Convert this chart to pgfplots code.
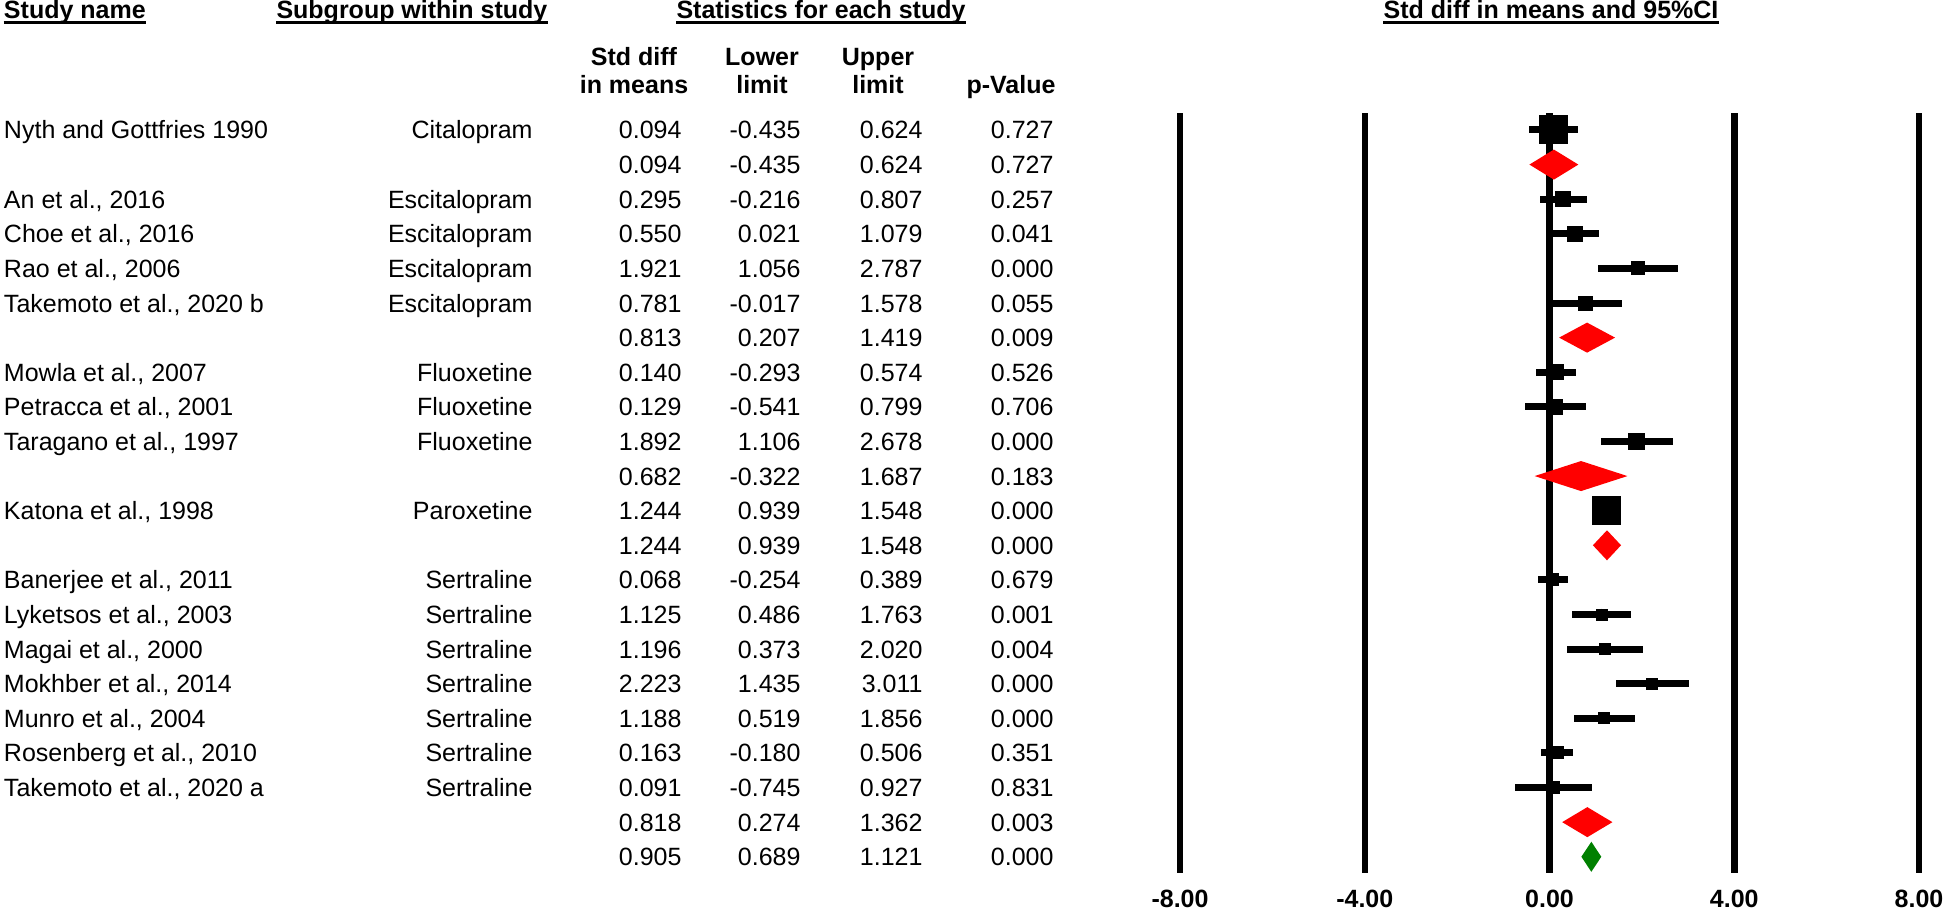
\documentclass[border=0pt]{standalone}
\usepackage{pgfplots}
\pgfplotsset{compat=1.18}
\usepackage{pgfplotstable}
\usepackage{fontspec}
\setmainfont{Liberation Sans}

\definecolor{sumred}{RGB}{255,0,0}
\definecolor{allgreen}{RGB}{0,128,0}

% row = line of the table (0 = top), ms = half side of the square in pt
\pgfplotstableread[col sep=semicolon]{
row;name;sub;est;lo;hi;p;ms
0;Nyth and Gottfries 1990;Citalopram;0.094;-0.435;0.624;0.727;5.6
2;An et al., 2016;Escitalopram;0.295;-0.216;0.807;0.257;3.0
3;Choe et al., 2016;Escitalopram;0.550;0.021;1.079;0.041;3.0
4;Rao et al., 2006;Escitalopram;1.921;1.056;2.787;0.000;2.6
5;Takemoto et al., 2020 b;Escitalopram;0.781;-0.017;1.578;0.055;2.8
7;Mowla et al., 2007;Fluoxetine;0.140;-0.293;0.574;0.526;3.0
8;Petracca et al., 2001;Fluoxetine;0.129;-0.541;0.799;0.706;3.0
9;Taragano et al., 1997;Fluoxetine;1.892;1.106;2.678;0.000;3.2
11;Katona et al., 1998;Paroxetine;1.244;0.939;1.548;0.000;5.6
13;Banerjee et al., 2011;Sertraline;0.068;-0.254;0.389;0.679;2.4
14;Lyketsos et al., 2003;Sertraline;1.125;0.486;1.763;0.001;2.2
15;Magai et al., 2000;Sertraline;1.196;0.373;2.020;0.004;2.2
16;Mokhber et al., 2014;Sertraline;2.223;1.435;3.011;0.000;2.2
17;Munro et al., 2004;Sertraline;1.188;0.519;1.856;0.000;2.2
18;Rosenberg et al., 2010;Sertraline;0.163;-0.180;0.506;0.351;2.4
19;Takemoto et al., 2020 a;Sertraline;0.091;-0.745;0.927;0.831;2.4
}\studies

\pgfplotstableread[col sep=semicolon]{
row;est;lo;hi;p
1;0.094;-0.435;0.624;0.727
6;0.813;0.207;1.419;0.009
10;0.682;-0.322;1.687;0.183
12;1.244;0.939;1.548;0.000
20;0.818;0.274;1.362;0.003
21;0.905;0.689;1.121;0.000
}\summaries

\pgfplotsset{
  rows/.style={scale only axis, height=304pt, ymin=-0.49, ymax=21.47,
    y dir=reverse, clip=false, anchor=south west},
  txt/.style={draw=none, mark=none, nodes near coords, point meta=explicit symbolic,
    every node near coord/.append style={text=black, inner sep=0pt,
      anchor=base east, yshift=-3.6pt, font=\normalsize}},
}

\begin{document}
\begin{tikzpicture}
\useasboundingbox (0,0) rectangle (777.6pt,-364.4pt);

% table part, x in pixels of the original
\begin{axis}[rows, at={(0pt,-349.2pt)}, width=777.6pt, xmin=0, xmax=1944, hide axis]
  \addplot[txt, every node near coord/.append style={anchor=base west}]
    table[x expr=3.5, y=row, meta=name] {\studies};
  \addplot[txt] table[x expr=533, y=row, meta=sub] {\studies};
  \addplot[txt] table[x expr=682, y=row, meta=est] {\studies};
  \addplot[txt] table[x expr=801, y=row, meta=lo] {\studies};
  \addplot[txt] table[x expr=923, y=row, meta=hi] {\studies};
  \addplot[txt] table[x expr=1054, y=row, meta=p] {\studies};
  \addplot[txt] table[x expr=682, y=row, meta=est] {\summaries};
  \addplot[txt] table[x expr=801, y=row, meta=lo] {\summaries};
  \addplot[txt] table[x expr=923, y=row, meta=hi] {\summaries};
  \addplot[txt] table[x expr=1054, y=row, meta=p] {\summaries};

  \node[anchor=base west, inner sep=0pt, font=\bfseries] (h1) at (axis cs:3.5,-3.21) {Study name};
  \node[anchor=base west, inner sep=0pt, font=\bfseries] (h2) at (axis cs:276,-3.21) {Subgroup within study};
  \node[anchor=base, inner sep=0pt, font=\bfseries] (h3) at (axis cs:821,-3.21) {Statistics for each study};
  \node[anchor=base, inner sep=0pt, font=\bfseries] (h4) at (axis cs:1551,-3.21) {Std diff in means and 95\%CI};
  \draw[line width=1.1pt] ([yshift=-1.5pt]h1.base west) -- ([yshift=-1.5pt]h1.base east);
  \draw[line width=1.1pt] ([yshift=-1.5pt]h2.base west) -- ([yshift=-1.5pt]h2.base east);
  \draw[line width=1.1pt] ([yshift=-1.5pt]h3.base west) -- ([yshift=-1.5pt]h3.base east);
  \draw[line width=1.1pt] ([yshift=-1.5pt]h4.base west) -- ([yshift=-1.5pt]h4.base east);

  \node[anchor=base, inner sep=0pt, font=\bfseries] at (axis cs:634,-1.85) {Std diff};
  \node[anchor=base, inner sep=0pt, font=\bfseries] at (axis cs:634,-1.04) {in means};
  \node[anchor=base, inner sep=0pt, font=\bfseries] at (axis cs:762,-1.85) {Lower};
  \node[anchor=base, inner sep=0pt, font=\bfseries] at (axis cs:762,-1.04) {limit};
  \node[anchor=base, inner sep=0pt, font=\bfseries] at (axis cs:878,-1.85) {Upper};
  \node[anchor=base, inner sep=0pt, font=\bfseries] at (axis cs:878,-1.04) {limit};
  \node[anchor=base, inner sep=0pt, font=\bfseries] at (axis cs:1011,-1.04) {p-Value};
\end{axis}

% forest plot
\begin{axis}[rows, at={(472pt,-349.2pt)}, width=295.6pt, xmin=-8, xmax=8,
  axis line style={draw=none}, ytick=\empty,
  xtick={-8,-4,0,4,8}, xticklabels={-8.00,-4.00,0.00,4.00,8.00},
  xticklabel style={font=\bfseries, anchor=north, inner sep=0pt, yshift=-6.6pt},
  major tick length=0pt,
  xmajorgrids, major grid style={black, line width=2.6pt}]

  \addplot[only marks, mark=none,
    error bars/.cd, x dir=both, x explicit, error mark=none,
    error bar style={draw=black, line width=2.8pt}]
    table[x=est, y=row, x error plus expr=\thisrow{hi}-\thisrow{est},
      x error minus expr=\thisrow{est}-\thisrow{lo}] {\studies};

  \addplot[only marks, mark=square*, scatter,
    scatter/use mapped color={draw=black, fill=black},
    visualization depends on={\thisrow{ms} \as \msize},
    scatter/@pre marker code/.append style={/tikz/mark size=\msize}]
    table[x=est, y=row] {\studies};

  \addplot[fill=sumred, draw=none] coordinates {(-0.435,1) (0.094,0.566) (0.624,1) (0.094,1.434)} -- cycle;
  \addplot[fill=sumred, draw=none] coordinates {(0.207,6) (0.813,5.566) (1.419,6) (0.813,6.434)} -- cycle;
  \addplot[fill=sumred, draw=none] coordinates {(-0.322,10) (0.682,9.566) (1.687,10) (0.682,10.434)} -- cycle;
  \addplot[fill=sumred, draw=none] coordinates {(0.939,12) (1.244,11.566) (1.548,12) (1.244,12.434)} -- cycle;
  \addplot[fill=sumred, draw=none] coordinates {(0.274,20) (0.818,19.566) (1.362,20) (0.818,20.434)} -- cycle;
  \addplot[fill=allgreen, draw=none] coordinates {(0.689,21) (0.905,20.566) (1.121,21) (0.905,21.434)} -- cycle;
\end{axis}
\end{tikzpicture}
\end{document}
